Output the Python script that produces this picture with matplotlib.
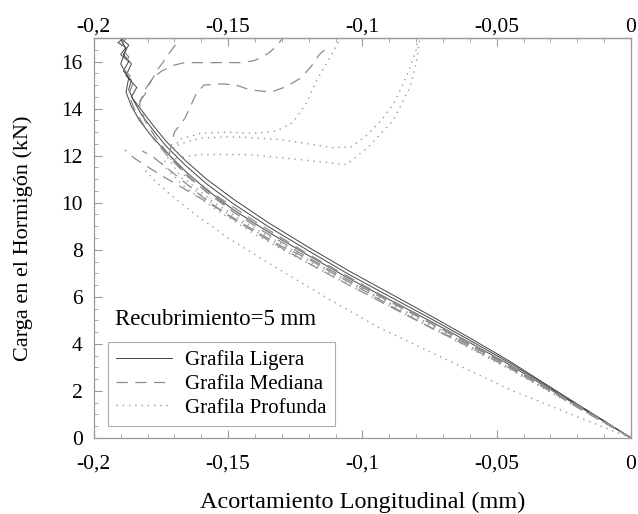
import matplotlib
matplotlib.use("Agg")
import matplotlib.pyplot as plt
from matplotlib.lines import Line2D

# ---------------- data ----------------
# Grafila Ligera (solid)
lig1_x = [0, -0.01, -0.02, -0.03, -0.045, -0.06, -0.075, -0.09, -0.105, -0.12, -0.135, -0.148, -0.158, -0.166,
          -0.173, -0.178, -0.182, -0.185, -0.187, -0.186, -0.189, -0.187, -0.19, -0.188, -0.191, -0.189]
lig1_y = [0, 0.72, 1.42, 2.12, 3.18, 4.15, 5.1, 6.02, 6.95, 7.95, 8.98, 9.95, 10.8, 11.6,
          12.4, 13.1, 13.7, 14.3, 14.8, 15.2, 15.6, 16.0, 16.3, 16.6, 16.8, 17.0]
lig2_x = [0, -0.01, -0.02, -0.03, -0.045, -0.06, -0.075, -0.09, -0.105, -0.12, -0.135, -0.148, -0.158, -0.166,
          -0.173, -0.178, -0.182, -0.186, -0.184, -0.188, -0.186, -0.189, -0.187, -0.19]
lig2_y = [0, 0.72, 1.44, 2.16, 3.25, 4.25, 5.22, 6.16, 7.1, 8.1, 9.15, 10.15, 11.0, 11.8,
          12.6, 13.3, 13.9, 14.5, 14.9, 15.4, 15.9, 16.3, 16.7, 17.0]
lig3_x = [0, -0.01, -0.02, -0.03, -0.045, -0.06, -0.075, -0.09, -0.105, -0.12, -0.135, -0.148, -0.158, -0.166,
          -0.173, -0.179, -0.183, -0.186, -0.188, -0.187, -0.19, -0.188, -0.19]
lig3_y = [0, 0.7, 1.38, 2.06, 3.1, 4.05, 4.98, 5.88, 6.78, 7.75, 8.75, 9.7, 10.55, 11.35,
          12.15, 12.9, 13.5, 14.1, 14.7, 15.3, 15.9, 16.5, 17.0]

# Grafila Mediana (dashed)
med1_x = [0, -0.02, -0.045, -0.06, -0.075, -0.09, -0.105, -0.12, -0.135, -0.148, -0.158, -0.166, -0.173,
          -0.178, -0.182, -0.185, -0.187, -0.185, -0.189, -0.187, -0.19, -0.188]
med1_y = [0, 1.38, 3.05, 3.98, 4.9, 5.8, 6.7, 7.65, 8.65, 9.6, 10.45, 11.25, 12.05, 12.75, 13.4, 14.0,
          14.6, 15.2, 15.7, 16.2, 16.6, 17.0]
med2_x = [0, -0.02, -0.045, -0.06, -0.075, -0.09, -0.105, -0.12, -0.135, -0.148, -0.158, -0.166, -0.173,
          -0.178, -0.182]
med2_y = [0, 1.34, 2.95, 3.85, 4.72, 5.6, 6.5, 7.42, 8.4, 9.3, 10.1, 10.85, 11.5, 11.95, 12.2]
med3_x = [0, -0.02, -0.035, -0.055, -0.065, -0.074, -0.083, -0.093, -0.103, -0.111, -0.12, -0.13, -0.14,
          -0.148, -0.156, -0.165, -0.174, -0.181, -0.185, -0.1885]
med3_y = [0, 1.3, 2.35, 3.65, 4.2, 4.65, 5.2, 5.85, 6.5, 7.0, 7.6, 8.15, 8.8, 9.35, 9.9, 10.5, 11.1,
          11.6, 11.9, 12.25]
med4_x = [0, -0.02, -0.045, -0.07, -0.095, -0.12, -0.14, -0.155, -0.165, -0.172, -0.17, -0.166, -0.162,
          -0.159, -0.152, -0.147, -0.142, -0.134, -0.128, -0.123, -0.119, -0.116, -0.113]
med4_y = [0, 1.36, 3.0, 4.6, 6.15, 7.75, 9.1, 10.2, 11.1, 12.0, 13.0, 13.6, 14.6, 15.0, 15.05, 15.0,
          14.8, 14.7, 14.95, 15.3, 15.8, 16.3, 16.6]
med5_x = [0, -0.02, -0.045, -0.07, -0.095, -0.12, -0.14, -0.157, -0.168, -0.176, -0.181, -0.183, -0.181,
          -0.178, -0.1747, -0.17, -0.166, -0.158, -0.15, -0.145, -0.14, -0.135, -0.132, -0.13]
med5_y = [0, 1.4, 3.08, 4.68, 6.2, 7.8, 9.2, 10.5, 11.5, 12.6, 13.5, 14.2, 14.8, 15.3, 15.6, 15.85,
          15.96, 15.95, 15.96, 15.95, 16.05, 16.35, 16.65, 16.95]
med6_x = [-0.183, -0.181, -0.18, -0.177, -0.176, -0.174, -0.173, -0.171, -0.17, -0.169, -0.168]
med6_y = [14.3, 14.6, 14.9, 15.5, 15.7, 16.0, 16.2, 16.5, 16.65, 16.8, 17.0]

# Grafila Profunda (dotted)
pro1_x = [0, -0.02, -0.045, -0.07, -0.094, -0.112, -0.133, -0.15, -0.161, -0.17, -0.177, -0.181]
pro1_y = [0, 0.9, 2.05, 3.4, 4.7, 5.87, 7.3, 8.5, 9.4, 10.2, 10.9, 11.4]
pro2_x = [0, -0.02, -0.045, -0.07, -0.095, -0.12, -0.14, -0.155, -0.165, -0.171, -0.168, -0.16, -0.15,
          -0.14, -0.132, -0.126, -0.121, -0.117, -0.113, -0.109, -0.108]
pro2_y = [0, 1.33, 2.98, 4.55, 6.05, 7.6, 8.9, 10.0, 10.9, 12.2, 12.7, 12.95, 13.0, 12.95, 13.05, 13.4,
          14.2, 15.2, 16.0, 16.8, 17.0]
pro3_x = [0, -0.02, -0.045, -0.07, -0.095, -0.12, -0.14, -0.155, -0.166, -0.173, -0.168, -0.16, -0.15,
          -0.142, -0.13, -0.12, -0.111, -0.104, -0.098, -0.093, -0.0886, -0.085, -0.0823, -0.08, -0.0793]
pro3_y = [0, 1.32, 2.95, 4.5, 6.0, 7.5, 8.8, 9.9, 10.85, 12.0, 12.5, 12.75, 12.8, 12.77, 12.68, 12.5,
          12.34, 12.38, 12.9, 13.5, 14.17, 15.0, 15.74, 16.5, 17.0]
pro4_x = [0, -0.02, -0.045, -0.07, -0.095, -0.12, -0.14, -0.155, -0.167, -0.175, -0.17, -0.16, -0.15,
          -0.142, -0.123, -0.106, -0.098, -0.0886, -0.0823, -0.08, -0.0786]
pro4_y = [0, 1.3, 2.9, 4.42, 5.9, 7.4, 8.65, 9.75, 10.75, 11.7, 11.9, 12.05, 12.05, 12.04, 11.83, 11.62,
          12.34, 13.49, 14.9, 15.9, 17.0]

x_ticks = [-0.2, -0.15, -0.1, -0.05, 0]
x_tick_labels = ["-0,2", "-0,15", "-0,1", "-0,05", "0"]
y_ticks = [0, 2, 4, 6, 8, 10, 12, 14, 16]
series_names = ["Grafila Ligera", "Grafila Mediana", "Grafila Profunda"]

# ---------------- figure ----------------
plt.rcParams['font.family'] = ['Liberation Serif', 'DejaVu Serif']
fig = plt.figure(figsize=(6.38, 5.14), dpi=100)
ax = fig.add_axes([0.147, 0.148, 0.842, 0.778])

solid_kw = dict(color='#444444', lw=0.7, ls='-')
dash_kw = dict(color='#8c8c8c', lw=0.9, ls=(0, (9, 6)))
dot_kw = dict(color='#9a9a9a', lw=1.0, ls=(0, (1, 3.5)))

for xs, ys in [(lig1_x, lig1_y), (lig2_x, lig2_y), (lig3_x, lig3_y)]:
    ax.plot(xs, ys, **solid_kw)
for xs, ys in [(med1_x, med1_y), (med2_x, med2_y), (med3_x, med3_y), (med4_x, med4_y),
               (med5_x, med5_y), (med6_x, med6_y)]:
    ax.plot(xs, ys, **dash_kw)
for xs, ys in [(pro1_x, pro1_y), (pro2_x, pro2_y), (pro3_x, pro3_y), (pro4_x, pro4_y)]:
    ax.plot(xs, ys, **dot_kw)

ax.set_xlim(-0.2, 0)
ax.set_ylim(0, 17)
ax.set_xticks(x_ticks)
ax.set_xticklabels(x_tick_labels)
ax.set_yticks(y_ticks)
ax.set_xticks([v / 100 for v in range(-20, 1)], minor=True)
ax.set_yticks([v / 2 for v in range(0, 35)], minor=True)
ax.tick_params(which='both', direction='in', top=True, labeltop=False, right=False,
               colors='#9a9a9a', labelcolor='black', labelsize=15.5)
ax.tick_params(which='major', length=6, width=0.8)
ax.tick_params(which='minor', length=3, width=0.6)
ax.tick_params(axis='x', which='major', pad=12)
ax.tick_params(axis='y', which='major', pad=8)
for sp in ax.spines.values():
    sp.set_color('#9a9a9a')
    sp.set_linewidth(0.9)

# top labels on a secondary axis (smaller pad than at the bottom)
secax = ax.secondary_xaxis('top')
secax.set_xticks(x_ticks)
secax.set_xticklabels(x_tick_labels)
secax.tick_params(which='both', direction='in', length=0, pad=1, labelsize=15.5,
                  colors='#9a9a9a', labelcolor='black')
secax.spines['top'].set_color('#9a9a9a')
secax.spines['top'].set_linewidth(0.9)

ax.set_xlabel("Acortamiento Longitudinal (mm)", fontsize=17.5, labelpad=13)
ax.set_ylabel("Carga en el Hormigón (kN)", fontsize=16, labelpad=20)

ax.text(0.04, 0.295, "Recubrimiento=5 mm", transform=ax.transAxes, fontsize=16.5,
        va='center', ha='left')

handles = [Line2D([], [], **solid_kw), Line2D([], [], **dash_kw), Line2D([], [], **dot_kw)]
leg = ax.legend(handles, series_names, loc='lower left', bbox_to_anchor=(0.026, 0.03),
                fontsize=15, frameon=True, fancybox=False, handlelength=2.7,
                borderpad=0.4, labelspacing=0.2, handletextpad=0.6, borderaxespad=0)
leg.get_frame().set_edgecolor('#9a9a9a')
leg.get_frame().set_linewidth(0.8)

fig.savefig("out.png", dpi=100)
